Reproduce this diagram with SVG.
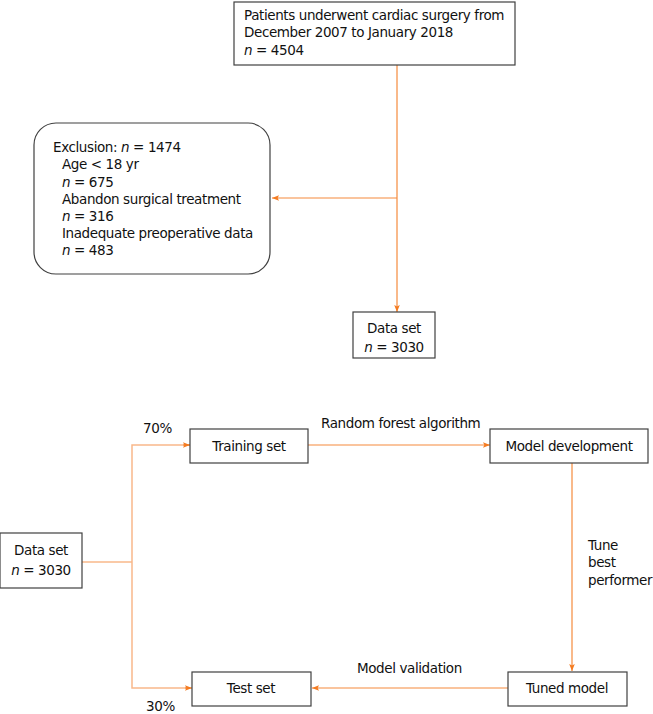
<svg xmlns="http://www.w3.org/2000/svg" width="653" height="714" viewBox="0 0 653 714">
<style>
text{font-family:"DejaVu Sans","Liberation Sans",sans-serif;font-size:13.5px;letter-spacing:-0.4px;fill:#111}
.c{text-anchor:middle}
.box{fill:#fff;stroke:#404040;stroke-width:1.2}
.ln{fill:none;stroke:#f58a3c;stroke-width:1.2}
.lt{fill:none;stroke:#f9b88a;stroke-width:1.5}
</style>
<defs>
<marker id="ah" viewBox="0 0 10 10" refX="10" refY="5" markerWidth="7" markerHeight="7" markerUnits="userSpaceOnUse" orient="auto">
<path d="M0,1 L10,5 L0,9 L2,5 Z" fill="#f47b20"/>
</marker>
</defs>
<rect width="653" height="714" fill="#fff"/>
<g id="connectors">
<line class="ln" x1="397" y1="65" x2="397" y2="312" marker-end="url(#ah)"/>
<line class="ln" x1="397" y1="198" x2="272" y2="198" marker-end="url(#ah)"/>
<line class="lt" x1="82" y1="562" x2="132" y2="562"/>
<polyline class="lt" points="190,445 132,445 132,688 190,688"/>
<line class="ln" x1="183" y1="445" x2="190" y2="445" marker-end="url(#ah)"/>
<line class="ln" x1="185" y1="688" x2="192" y2="688" marker-end="url(#ah)"/>
<line class="ln" x1="308" y1="445" x2="490" y2="445" marker-end="url(#ah)"/>
<line class="ln" x1="572" y1="463" x2="572" y2="671" marker-end="url(#ah)"/>
<line class="ln" x1="508" y1="688" x2="312" y2="688" marker-end="url(#ah)"/>
<text x="143" y="433">70%</text>
<text x="146" y="711">30%</text>
<text x="321" y="428">Random forest algorithm</text>
<text x="588" y="550">Tune</text>
<text x="588" y="567">best</text>
<text x="588" y="585">performer</text>
<text x="357" y="673">Model validation</text>
</g>
<g id="patients">
<rect class="box" x="234" y="2" width="281" height="63"/>
<text x="244" y="20">Patients underwent cardiac surgery from</text>
<text x="244" y="37">December 2007 to January 2018</text>
<text x="244" y="55"><tspan font-style="italic">n</tspan> = 4504</text>
</g>
<g id="exclusion">
<rect class="box" x="34" y="123" width="236" height="151" rx="22" ry="22"/>
<text x="53" y="152">Exclusion: <tspan font-style="italic">n</tspan> = 1474</text>
<text x="62" y="169">Age &lt; 18 yr</text>
<text x="62" y="187"><tspan font-style="italic">n</tspan> = 675</text>
<text x="62" y="204">Abandon surgical treatment</text>
<text x="62" y="221"><tspan font-style="italic">n</tspan> = 316</text>
<text x="62" y="238">Inadequate preoperative data</text>
<text x="62" y="255"><tspan font-style="italic">n</tspan> = 483</text>
</g>
<g id="dataset1">
<rect class="box" x="353" y="312" width="82" height="46"/>
<text class="c" x="394" y="333">Data set</text>
<text class="c" x="394" y="352"><tspan font-style="italic">n</tspan> = 3030</text>
</g>
<g id="dataset2">
<rect class="box" x="0" y="533" width="82" height="55"/>
<text class="c" x="41" y="555">Data set</text>
<text class="c" x="41" y="575"><tspan font-style="italic">n</tspan> = 3030</text>
</g>
<g id="training">
<rect class="box" x="190" y="429" width="118" height="34"/>
<text class="c" x="249" y="451">Training set</text>
</g>
<g id="modeldev">
<rect class="box" x="490" y="429" width="158" height="34"/>
<text class="c" x="569" y="451">Model development</text>
</g>
<g id="testset">
<rect class="box" x="192" y="672" width="119" height="34"/>
<text class="c" x="251" y="693">Test set</text>
</g>
<g id="tuned">
<rect class="box" x="508" y="672" width="119" height="34"/>
<text class="c" x="567" y="693">Tuned model</text>
</g>
</svg>
